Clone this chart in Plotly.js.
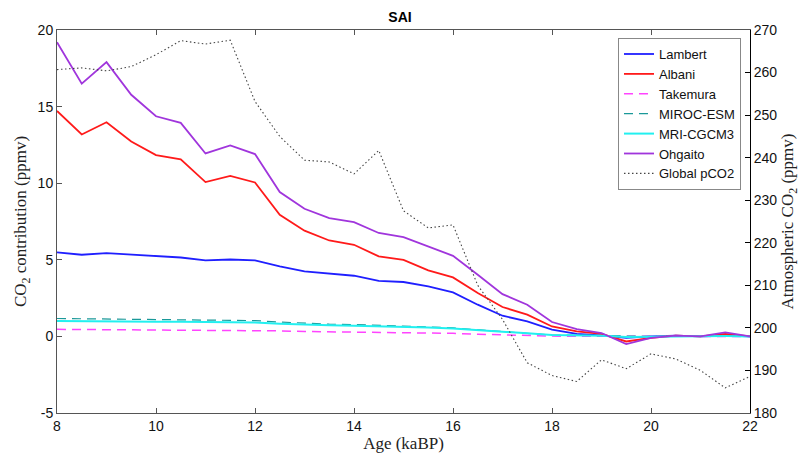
<!DOCTYPE html>
<html>
<head>
<meta charset="utf-8">
<script src="https://cdn.plot.ly/plotly-3.0.1.min.js"></script>
<style>html,body{margin:0;padding:0;background:#fff;}#chart{width:800px;height:457px;}</style>
</head>
<body>
<div id="chart"></div>
<script>
const age = [8,8.5,9,9.5,10,10.5,11,11.5,12,12.5,13,13.5,14,14.5,15,15.5,16,16.5,17,17.5,18,18.5,19,19.5,20,20.5,21,21.5,22];
const lambert = [5.48,5.33,5.44,5.33,5.22,5.15,4.96,5.02,4.96,4.57,4.24,4.09,3.96,3.63,3.55,3.26,2.87,2.07,1.35,0.98,0.44,0.17,0.07,-0.1,0.0,0.05,0.0,0.05,0.0];
const albani = [14.72,13.18,13.98,12.72,11.83,11.55,10.07,10.48,10.05,7.94,6.9,6.26,5.98,5.22,5.0,4.31,3.85,2.83,1.92,1.42,0.65,0.33,0.17,-0.33,-0.1,0.05,0.0,0.17,0.0];
const takemura = [0.46,0.45,0.45,0.44,0.43,0.43,0.42,0.42,0.41,0.36,0.32,0.30,0.28,0.26,0.25,0.23,0.20,0.14,0.09,0.05,0.02,0.01,0.0,0.0,0.0,0.0,0.0,0.0,0.0];
const miroc = [1.17,1.15,1.14,1.12,1.10,1.08,1.06,1.05,1.03,0.94,0.85,0.80,0.77,0.73,0.69,0.62,0.55,0.42,0.30,0.20,0.10,0.07,0.05,0.0,0.0,0.02,0.02,0.02,0.0];
const mri = [1.0,0.98,0.98,0.97,0.96,0.95,0.93,0.92,0.90,0.83,0.77,0.73,0.70,0.67,0.64,0.58,0.52,0.40,0.28,0.20,0.09,0.06,0.04,-0.04,-0.02,0.02,0.02,0.02,0.0];
const ohgaito = [19.2,16.5,17.9,15.77,14.37,13.94,11.94,12.46,11.9,9.42,8.33,7.72,7.46,6.75,6.48,5.87,5.26,4.02,2.76,2.07,0.94,0.48,0.22,-0.5,-0.1,0.05,0.0,0.26,0.0];
const pco2 = [260.7,261.1,260.4,261.4,264.2,267.5,266.7,267.6,253.2,245.0,239.4,239.0,236.2,241.7,227.5,223.5,224.2,210.0,202.0,191.8,188.8,187.4,192.5,190.4,193.9,192.7,190.0,185.9,188.6];

const xTicks = [8,10,12,14,16,18,20,22];
const yTicks = [-5,0,5,10,15,20];
const y2Ticks = [180,190,200,210,220,230,240,250,260,270];

const traces = [
  {x: age, y: lambert, name: 'Lambert', line: {color: '#1f1fff', width: 1.8}},
  {x: age, y: albani, name: 'Albani', line: {color: '#ff1a1a', width: 1.8}},
  {x: age, y: takemura, name: 'Takemura', line: {color: '#ff44ff', width: 1.5, dash: '9px,6px'}},
  {x: age, y: miroc, name: 'MIROC-ESM', line: {color: '#1a9999', width: 1.2, dash: '9px,6px'}},
  {x: age, y: mri, name: 'MRI-CGCM3', line: {color: '#22f0f0', width: 2}},
  {x: age, y: ohgaito, name: 'Ohgaito', line: {color: '#a035dc', width: 1.8}},
  {x: age, y: pco2, name: 'Global pCO2', yaxis: 'y2', line: {color: '#444444', width: 1.1, dash: '1.5px,2.5px'}}
].map(t => Object.assign({type: 'scatter', mode: 'lines'}, t));

const tickFont = {family: 'Liberation Sans, Arial, sans-serif', size: 14, color: '#111'};
const serif = {family: 'Liberation Serif, DejaVu Serif, serif', size: 17, color: '#222'};

const layout = {
  width: 800, height: 457,
  margin: {l: 57, r: 50, t: 30, b: 44},
  paper_bgcolor: '#fff', plot_bgcolor: '#fff',
  title: {text: '<b>SAI</b>', font: {family: 'Liberation Sans, Arial, sans-serif', size: 14, color: '#000'}, x: 0.5, xanchor: 'center', y: 0.963, yanchor: 'middle'},
  showlegend: true,
  legend: {x: 0.987, xanchor: 'right', y: 0.979, yanchor: 'top', bgcolor: '#fff', bordercolor: '#888', borderwidth: 1,
           font: {family: 'Liberation Sans, Arial, sans-serif', size: 13, color: '#111'}, tracegroupgap: 0, itemwidth: 30},
  xaxis: {range: [8, 22], tickvals: xTicks, ticktext: xTicks.map(String), ticks: 'inside', ticklen: 5, tickcolor: '#555',
          showline: true, linecolor: '#555', linewidth: 1, mirror: 'ticks', showgrid: false, zeroline: false,
          tickfont: tickFont, title: {text: 'Age (kaBP)', font: serif, standoff: 4}},
  yaxis: {range: [-5, 20], tickvals: yTicks, ticktext: yTicks.map(String), ticks: 'inside', ticklen: 5, tickcolor: '#555',
          showline: true, linecolor: '#555', linewidth: 1, showgrid: false, zeroline: false,
          tickfont: tickFont, title: {text: 'CO<sub>2</sub> contribution (ppmv)', font: serif, standoff: 6}},
  yaxis2: {range: [180, 270], tickvals: y2Ticks, ticktext: y2Ticks.map(String), overlaying: 'y', side: 'right', ticks: 'inside', ticklen: 5,
           tickcolor: '#000', showline: true, linecolor: '#000', linewidth: 1, showgrid: false, zeroline: false,
           tickfont: tickFont, title: {text: 'Atmospheric CO<sub>2</sub> (ppmv)', font: serif, standoff: 6}}
};

Plotly.newPlot('chart', traces, layout, {staticPlot: true, displayModeBar: false});
</script>
</body>
</html>
